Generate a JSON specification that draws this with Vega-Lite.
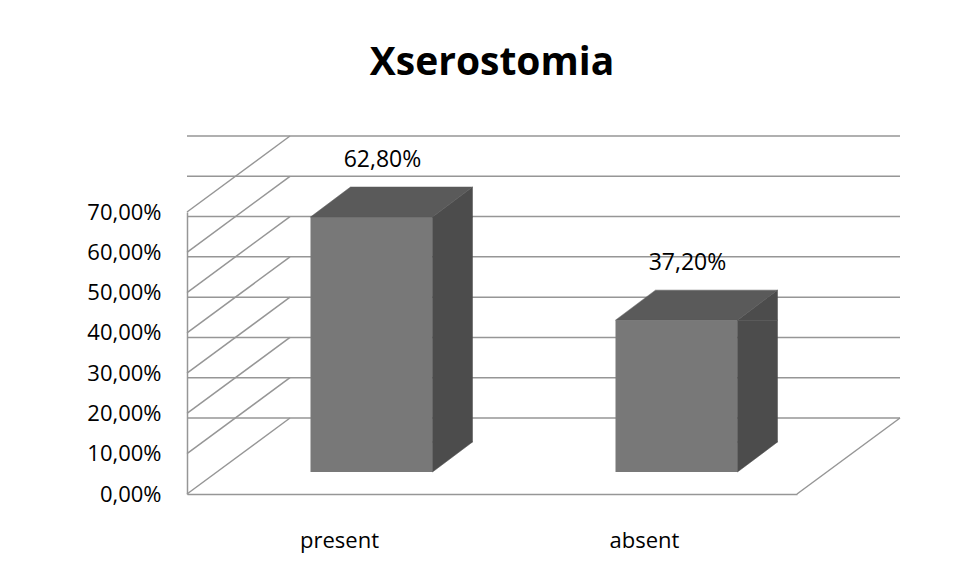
{
  "$schema": "https://vega.github.io/schema/vega-lite/v6.json",
  "width": 610,
  "height": 282,
  "autosize": "none",
  "padding": {"left": 187, "top": 212, "right": 166, "bottom": 89},
  "background": "white",
  "title": {
    "text": "Xserostomia",
    "font": "Open Sans",
    "fontSize": 39,
    "fontWeight": "bold",
    "color": "#000000",
    "anchor": "middle",
    "frame": "group",
    "baseline": "alphabetic",
    "offset": 21
  },
  "data": {
    "values": [
      {"category": "present", "value": 0.628},
      {"category": "absent", "value": 0.372}
    ]
  },
  "layer": [
    {
      "data": {"values": [{"v": 0}, {"v": 0.1}, {"v": 0.2}, {"v": 0.3}, {"v": 0.4}, {"v": 0.5}, {"v": 0.6}, {"v": 0.7}]},
      "mark": {"type": "rule", "color": "#969696", "strokeWidth": 1.5, "xOffset": 103, "x2Offset": 103, "yOffset": -76},
      "encoding": {
        "y": {"field": "v", "type": "quantitative", "scale": {"domain": [0, 0.7], "nice": false}}
      }
    },
    {
      "data": {"values": [{"v": 0}, {"v": 0.1}, {"v": 0.2}, {"v": 0.3}, {"v": 0.4}, {"v": 0.5}, {"v": 0.6}, {"v": 0.7}]},
      "mark": {"type": "rule", "color": "#969696", "strokeWidth": 1.5, "y2Offset": -76},
      "encoding": {
        "y": {"field": "v", "type": "quantitative"},
        "y2": {"field": "v"},
        "x": {"value": 0},
        "x2": {"value": 103}
      }
    },
    {
      "data": {"values": [{"v": 0}]},
      "mark": {"type": "rule", "color": "#969696", "strokeWidth": 1.5, "y2Offset": -76},
      "encoding": {
        "y": {"field": "v", "type": "quantitative"},
        "y2": {"field": "v"},
        "x": {"value": 610},
        "x2": {"value": 713}
      }
    },
    {
      "mark": {"type": "bar", "color": "#787878", "xOffset": 32, "yOffset": -24, "y2Offset": -22},
      "encoding": {
        "x": {
          "field": "category",
          "type": "nominal",
          "sort": ["present", "absent"],
          "scale": {"paddingInner": 0.6, "paddingOuter": 0.3},
          "axis": {
            "title": null,
            "ticks": false,
            "labelAngle": 0,
            "labelFont": "Open Sans",
            "labelFontSize": 22,
            "labelColor": "#000000",
            "labelPadding": 36,
            "domainColor": "#969696",
            "domainWidth": 1.5
          }
        },
        "y": {
          "field": "value",
          "type": "quantitative",
          "scale": {"domain": [0, 0.7], "nice": false},
          "axis": {
            "title": null,
            "values": [0, 0.1, 0.2, 0.3, 0.4, 0.5, 0.6, 0.7],
            "format": ".2%",
            "grid": false,
            "ticks": false,
            "labelFont": "Open Sans",
            "labelFontSize": 22,
            "labelColor": "#000000",
            "labelPadding": 26,
            "domainColor": "#969696",
            "domainWidth": 1.5
          }
        },
        "y2": {"datum": 0}
      }
    },
    {
      "mark": {"type": "bar", "color": "#4c4c4c", "width": 40, "xOffset": 113, "yOffset": -24, "y2Offset": -52, "stroke": "#4c4c4c", "strokeWidth": 0.5},
      "encoding": {
        "x": {"field": "category", "type": "nominal", "sort": ["present", "absent"]},
        "y": {"field": "value", "type": "quantitative"},
        "y2": {"datum": 0}
      }
    },
    {
      "mark": {"type": "point", "shape": "M61,0 L101,-30 L101,0 Z", "size": 4, "filled": true, "opacity": 1, "color": "#4c4c4c", "stroke": "#4c4c4c", "strokeWidth": 0.5, "xOffset": 32, "yOffset": -24},
      "encoding": {
        "x": {"field": "category", "type": "nominal", "sort": ["present", "absent"]},
        "y": {"field": "value", "type": "quantitative"}
      }
    },
    {
      "mark": {"type": "point", "shape": "M61,0 L61,-30 L101,-30 Z", "size": 4, "filled": true, "opacity": 1, "color": "#4c4c4c", "stroke": "#4c4c4c", "strokeWidth": 0.5, "xOffset": 32, "yOffset": -22},
      "encoding": {
        "x": {"field": "category", "type": "nominal", "sort": ["present", "absent"]},
        "y": {"datum": 0, "type": "quantitative"}
      }
    },
    {
      "mark": {"type": "point", "shape": "M-61,0 L61,0 L101,-30 L-21,-30 Z", "size": 4, "filled": true, "opacity": 1, "color": "#5a5a5a", "stroke": "#5a5a5a", "strokeWidth": 0.5, "xOffset": 32, "yOffset": -24},
      "encoding": {
        "x": {"field": "category", "type": "nominal", "sort": ["present", "absent"]},
        "y": {"field": "value", "type": "quantitative"}
      }
    },
    {
      "mark": {"type": "text", "font": "Open Sans", "fontSize": 23, "color": "#000000", "baseline": "middle", "align": "center", "xOffset": 43, "yOffset": -81},
      "encoding": {
        "x": {"field": "category", "type": "nominal", "sort": ["present", "absent"]},
        "y": {"field": "value", "type": "quantitative"},
        "text": {"field": "value", "type": "quantitative", "format": ".2%"}
      }
    }
  ],
  "config": {
    "locale": {
      "number": {"decimal": ",", "thousands": ".", "grouping": [3], "currency": ["", " €"]}
    },
    "view": {"stroke": null}
  }
}
